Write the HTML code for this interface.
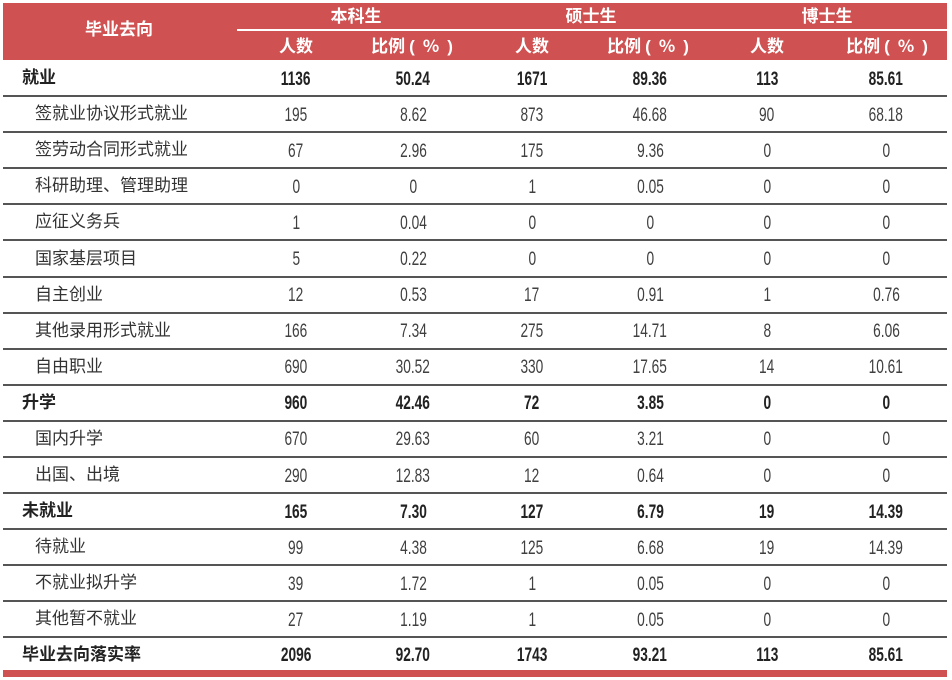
<!DOCTYPE html>
<html>
<head>
<meta charset="utf-8">
<style>
html,body{margin:0;padding:0;background:#fff;}
body{width:952px;height:680px;position:relative;overflow:hidden;font-family:"Liberation Sans","Noto Sans CJK SC",sans-serif;}
.hdr{position:absolute;left:3px;top:3px;width:944px;height:57px;background:#CF5151;}
.hl{position:absolute;left:237px;top:29px;width:710px;height:2px;background:#fff;}
.ht{position:absolute;color:#fff;font-weight:bold;font-size:17px;font-family:"Noto Sans CJK SC",sans-serif;text-align:center;width:120px;margin-left:-60px;height:20px;line-height:20px;white-space:nowrap;}
.po{font-family:"Liberation Sans",sans-serif;margin:0 8px 0 4px;}
.pc{font-family:"Liberation Sans",sans-serif;margin:0 0 0 8px;}
.row{position:absolute;left:0;width:952px;}
.lb{position:absolute;left:35px;top:-2px;font-family:"Noto Sans CJK SC",sans-serif;font-size:17px;color:#333;white-space:nowrap;}
.lb.b{left:22px;font-weight:bold;color:#222;}
.n{position:absolute;width:100px;text-align:center;top:1.5px;font-size:19px;color:#404040;}
.n span{display:inline-block;transform:scaleX(0.72);}
.n.b{font-weight:bold;color:#222;}
.c1{left:246px}.c2{left:363px}.c3{left:482px}.c4{left:600px}.c5{left:717px}.c6{left:836px}
.ln{position:absolute;left:3px;width:944px;height:2px;background:#555;}
.bot{position:absolute;left:3px;top:670px;width:944px;height:7px;background:#CF5151;}
</style>
</head>
<body>
<div class="hdr"></div>
<div class="hl"></div>
<div class="ht" style="left:119px;top:18px;">毕业去向</div>
<div class="ht" style="left:356px;top:5px;">本科生</div>
<div class="ht" style="left:591px;top:5px;">硕士生</div>
<div class="ht" style="left:827px;top:5px;">博士生</div>
<div class="ht" style="left:296px;top:35px;">人数</div>
<div class="ht" style="left:412px;top:35px;">比例<span class="po">(</span>%<span class="pc">)</span></div>
<div class="ht" style="left:532px;top:35px;">人数</div>
<div class="ht" style="left:648px;top:35px;">比例<span class="po">(</span>%<span class="pc">)</span></div>
<div class="ht" style="left:767px;top:35px;">人数</div>
<div class="ht" style="left:887px;top:35px;">比例<span class="po">(</span>%<span class="pc">)</span></div>

<div class="row" style="top:60px;height:36px;line-height:36px;"><div class="lb b">就业</div><div class="n b c1"><span>1136</span></div><div class="n b c2"><span>50.24</span></div><div class="n b c3"><span>1671</span></div><div class="n b c4"><span>89.36</span></div><div class="n b c5"><span>113</span></div><div class="n b c6"><span>85.61</span></div></div>
<div class="row" style="top:96.1px;height:36px;line-height:36px;"><div class="lb">签就业协议形式就业</div><div class="n c1"><span>195</span></div><div class="n c2"><span>8.62</span></div><div class="n c3"><span>873</span></div><div class="n c4"><span>46.68</span></div><div class="n c5"><span>90</span></div><div class="n c6"><span>68.18</span></div></div>
<div class="row" style="top:132.2px;height:36px;line-height:36px;"><div class="lb">签劳动合同形式就业</div><div class="n c1"><span>67</span></div><div class="n c2"><span>2.96</span></div><div class="n c3"><span>175</span></div><div class="n c4"><span>9.36</span></div><div class="n c5"><span>0</span></div><div class="n c6"><span>0</span></div></div>
<div class="row" style="top:168.3px;height:36px;line-height:36px;"><div class="lb">科研助理、管理助理</div><div class="n c1"><span>0</span></div><div class="n c2"><span>0</span></div><div class="n c3"><span>1</span></div><div class="n c4"><span>0.05</span></div><div class="n c5"><span>0</span></div><div class="n c6"><span>0</span></div></div>
<div class="row" style="top:204.4px;height:36px;line-height:36px;"><div class="lb">应征义务兵</div><div class="n c1"><span>1</span></div><div class="n c2"><span>0.04</span></div><div class="n c3"><span>0</span></div><div class="n c4"><span>0</span></div><div class="n c5"><span>0</span></div><div class="n c6"><span>0</span></div></div>
<div class="row" style="top:240.5px;height:36px;line-height:36px;"><div class="lb">国家基层项目</div><div class="n c1"><span>5</span></div><div class="n c2"><span>0.22</span></div><div class="n c3"><span>0</span></div><div class="n c4"><span>0</span></div><div class="n c5"><span>0</span></div><div class="n c6"><span>0</span></div></div>
<div class="row" style="top:276.5px;height:36px;line-height:36px;"><div class="lb">自主创业</div><div class="n c1"><span>12</span></div><div class="n c2"><span>0.53</span></div><div class="n c3"><span>17</span></div><div class="n c4"><span>0.91</span></div><div class="n c5"><span>1</span></div><div class="n c6"><span>0.76</span></div></div>
<div class="row" style="top:312.6px;height:36px;line-height:36px;"><div class="lb">其他录用形式就业</div><div class="n c1"><span>166</span></div><div class="n c2"><span>7.34</span></div><div class="n c3"><span>275</span></div><div class="n c4"><span>14.71</span></div><div class="n c5"><span>8</span></div><div class="n c6"><span>6.06</span></div></div>
<div class="row" style="top:348.7px;height:36px;line-height:36px;"><div class="lb">自由职业</div><div class="n c1"><span>690</span></div><div class="n c2"><span>30.52</span></div><div class="n c3"><span>330</span></div><div class="n c4"><span>17.65</span></div><div class="n c5"><span>14</span></div><div class="n c6"><span>10.61</span></div></div>
<div class="row" style="top:384.8px;height:36px;line-height:36px;"><div class="lb b">升学</div><div class="n b c1"><span>960</span></div><div class="n b c2"><span>42.46</span></div><div class="n b c3"><span>72</span></div><div class="n b c4"><span>3.85</span></div><div class="n b c5"><span>0</span></div><div class="n b c6"><span>0</span></div></div>
<div class="row" style="top:420.9px;height:36px;line-height:36px;"><div class="lb">国内升学</div><div class="n c1"><span>670</span></div><div class="n c2"><span>29.63</span></div><div class="n c3"><span>60</span></div><div class="n c4"><span>3.21</span></div><div class="n c5"><span>0</span></div><div class="n c6"><span>0</span></div></div>
<div class="row" style="top:457px;height:36px;line-height:36px;"><div class="lb">出国、出境</div><div class="n c1"><span>290</span></div><div class="n c2"><span>12.83</span></div><div class="n c3"><span>12</span></div><div class="n c4"><span>0.64</span></div><div class="n c5"><span>0</span></div><div class="n c6"><span>0</span></div></div>
<div class="row" style="top:493.1px;height:36px;line-height:36px;"><div class="lb b">未就业</div><div class="n b c1"><span>165</span></div><div class="n b c2"><span>7.30</span></div><div class="n b c3"><span>127</span></div><div class="n b c4"><span>6.79</span></div><div class="n b c5"><span>19</span></div><div class="n b c6"><span>14.39</span></div></div>
<div class="row" style="top:529.2px;height:36px;line-height:36px;"><div class="lb">待就业</div><div class="n c1"><span>99</span></div><div class="n c2"><span>4.38</span></div><div class="n c3"><span>125</span></div><div class="n c4"><span>6.68</span></div><div class="n c5"><span>19</span></div><div class="n c6"><span>14.39</span></div></div>
<div class="row" style="top:565.3px;height:36px;line-height:36px;"><div class="lb">不就业拟升学</div><div class="n c1"><span>39</span></div><div class="n c2"><span>1.72</span></div><div class="n c3"><span>1</span></div><div class="n c4"><span>0.05</span></div><div class="n c5"><span>0</span></div><div class="n c6"><span>0</span></div></div>
<div class="row" style="top:601.4px;height:36px;line-height:36px;"><div class="lb">其他暂不就业</div><div class="n c1"><span>27</span></div><div class="n c2"><span>1.19</span></div><div class="n c3"><span>1</span></div><div class="n c4"><span>0.05</span></div><div class="n c5"><span>0</span></div><div class="n c6"><span>0</span></div></div>
<div class="row" style="top:637.5px;height:33px;line-height:33px;"><div class="lb b">毕业去向落实率</div><div class="n b c1"><span>2096</span></div><div class="n b c2"><span>92.70</span></div><div class="n b c3"><span>1743</span></div><div class="n b c4"><span>93.21</span></div><div class="n b c5"><span>113</span></div><div class="n b c6"><span>85.61</span></div></div>

<div class="ln" style="top:95px"></div>
<div class="ln" style="top:131.1px"></div>
<div class="ln" style="top:167.2px"></div>
<div class="ln" style="top:203.3px"></div>
<div class="ln" style="top:239.4px"></div>
<div class="ln" style="top:275.5px"></div>
<div class="ln" style="top:311.5px"></div>
<div class="ln" style="top:347.6px"></div>
<div class="ln" style="top:383.7px"></div>
<div class="ln" style="top:419.8px"></div>
<div class="ln" style="top:455.9px"></div>
<div class="ln" style="top:492px"></div>
<div class="ln" style="top:528.1px"></div>
<div class="ln" style="top:564.2px"></div>
<div class="ln" style="top:600.3px"></div>
<div class="ln" style="top:636.4px"></div>
<div class="bot"></div>
</body>
</html>
